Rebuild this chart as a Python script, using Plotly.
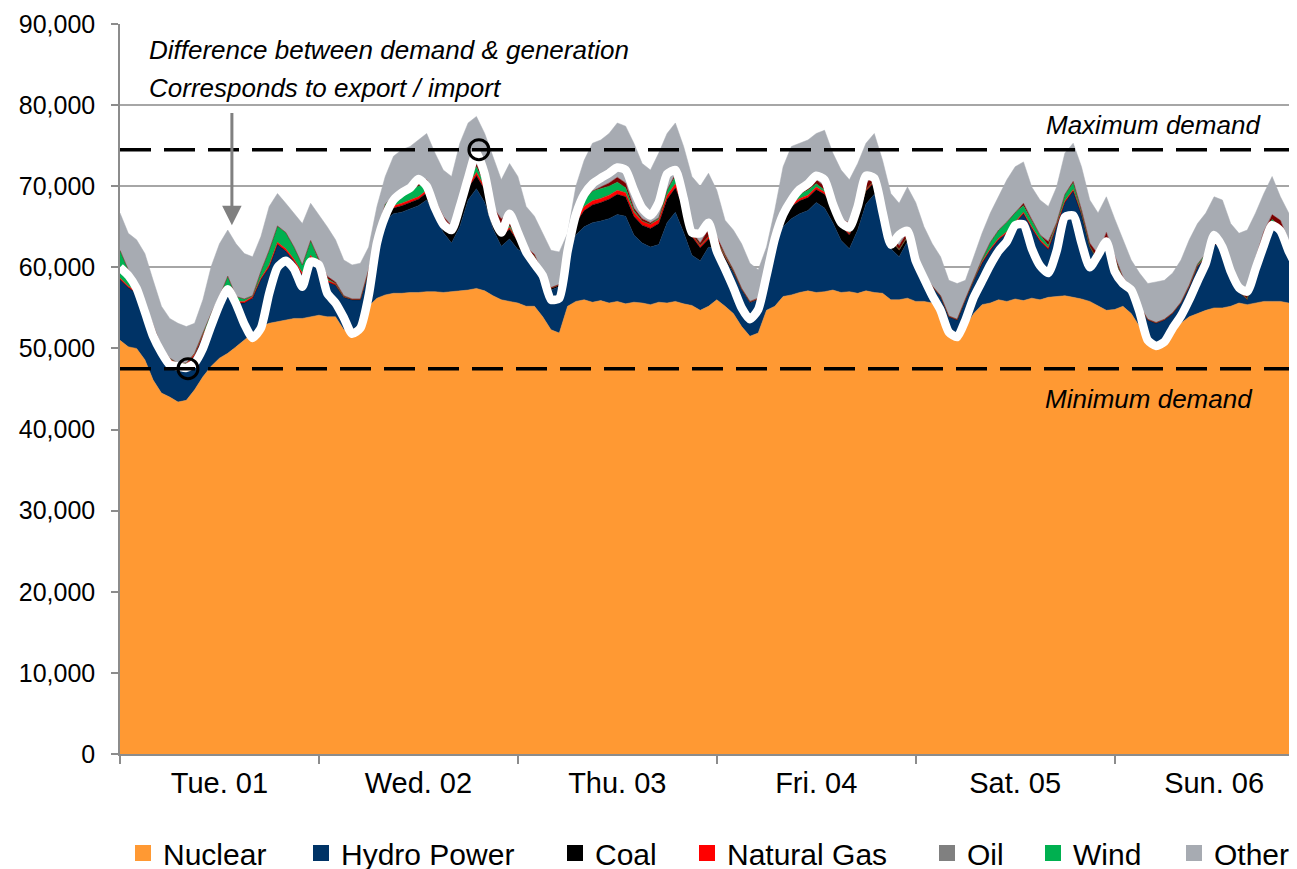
import plotly.graph_objects as go

# ---------------- data (MW, hourly, hour 0 = Tue 00:00) ----------------
hours = list(range(143))

nuclear = [
    51000, 50200, 50000, 48600, 46100, 44500, 44000, 43400, 43600, 44900, 46500, 47800, 48800, 49400, 50200, 51000, 51900, 52700, 53100, 53300, 53500, 53700, 53700, 53900, 54100,
    53900, 53900, 52300, 52300, 52700, 55200, 56200, 56600, 56800, 56800, 56900, 56900, 57000, 57000, 56900, 57000, 57100, 57200, 57400, 57100, 56500, 56000, 55800, 55600,
    55200, 55200, 53900, 52300, 51900, 55200, 55800, 56000, 55700, 55900, 55600, 55800, 55500, 55700, 55600, 55400, 55700, 55600, 55800, 55500, 55300, 54700, 55200, 56000,
    55200, 54300, 52700, 51500, 51900, 54700, 55200, 56400, 56600, 56900, 57100, 56900, 57000, 57200, 56900, 57000, 56800, 57100, 56900, 56800, 56000, 56000, 56200, 55800,
    55800, 55600, 54700, 52300, 51000, 52700, 54300, 55400, 55600, 56000, 55800, 56100, 55900, 56200, 56000, 56300, 56400, 56500, 56300, 56100, 55800, 55200, 54700, 54800,
    55200, 54300, 52700, 50600, 50200, 50800, 52300, 53100, 53900, 54300, 54700, 55000, 55000, 55200, 55600, 55400, 55600, 55800, 55800, 55800, 55600, 55400,
]
hydro = [
    7500, 7300, 6800, 6400, 6200, 5400, 4500, 4500, 4300, 4200, 5000, 5700, 6200, 7800, 5400, 4600, 4300, 5800, 6900, 9500, 8500, 7000, 5300, 7300, 5900,
    4300, 3900, 4000, 3700, 3300, 4100, 6800, 9200, 9800, 10000, 10300, 10700, 11300, 9300, 7400, 6000, 7900, 11100, 12300, 10900, 8200, 6600, 7700, 6600,
    6500, 5700, 4900, 4900, 5700, 5700, 8200, 9000, 9800, 9800, 10400, 10700, 10800, 8300, 7400, 7100, 7100, 9900, 11000, 8800, 6200, 6100, 7300, 6300,
    5700, 5000, 4500, 4100, 4100, 3700, 7300, 8600, 9400, 9700, 9900, 11100, 10300, 8300, 6400, 5300, 7800, 10700, 12100, 9000, 6300, 5300, 7000, 5200,
    3100, 2000, 1700, 1600, 2500, 3300, 4100, 5100, 6500, 7400, 8400, 9300, 10700, 8600, 7200, 5900, 8600, 11500, 13100, 10400, 6700, 5500, 8700, 6200,
    3200, 2900, 2500, 2900, 2900, 2700, 2000, 2500, 3700, 5800, 6600, 7900, 7500, 4300, 1400, 600, 4900, 8000, 9800, 9000, 6900, 5900,
]
coal = [
    0, 0, 0, 0, 0, 0, 0, 0, 0, 0, 0, 0, 0, 0, 0, 0, 0, 0, 0, 0, 0, 0, 0, 0, 0,
    0, 0, 0, 0, 0, 200, 400, 700, 700, 800, 800, 800, 900, 1200, 1300, 1300, 1300, 1500, 1600, 1600, 1500, 1300, 1200, 1000,
    300, 300, 200, 200, 200, 500, 1500, 2000, 2200, 2300, 2400, 2500, 2400, 2300, 2200, 2300, 2600, 2900, 3000, 3000, 2300, 1600, 1000, 800,
    300, 200, 100, 100, 100, 300, 800, 1300, 1500, 1600, 1600, 1600, 1700, 1800, 1800, 1700, 1600, 1600, 1500, 1400, 1000, 800, 500, 300,
    100, 0, 0, 0, 0, 0, 0, 0, 0, 0, 0, 0, 0, 0, 0, 0, 0, 0, 0, 0, 0, 0, 0, 0,
    0, 0, 0, 0, 0, 0, 0, 0, 0, 0, 0, 0, 0, 0, 0, 0, 0, 0, 0, 0, 0, 0,
]
natural_gas = [
    200, 200, 200, 200, 200, 200, 200, 200, 200, 200, 200, 200, 200, 200, 200, 200, 200, 200, 300, 300, 300, 300, 300, 300, 300,
    200, 200, 100, 100, 100, 200, 200, 300, 300, 300, 300, 300, 300, 300, 300, 300, 300, 300, 400, 300, 200, 200, 200, 200,
    200, 200, 100, 100, 100, 200, 400, 500, 500, 500, 500, 500, 500, 500, 500, 500, 500, 500, 500, 400, 300, 300, 300, 200,
    200, 100, 100, 100, 100, 100, 200, 300, 300, 300, 300, 300, 300, 300, 300, 200, 200, 200, 200, 200, 200, 100, 100, 100,
    100, 100, 100, 100, 100, 100, 100, 200, 200, 200, 200, 200, 200, 200, 200, 200, 200, 200, 200, 200, 100, 100, 100, 100,
    100, 100, 100, 100, 100, 100, 100, 100, 100, 100, 100, 100, 100, 100, 100, 100, 100, 100, 100, 100, 100, 100,
]
wind = [
    3400, 2000, 1200, 300, 200, 100, 100, 100, 100, 100, 200, 600, 1200, 1500, 600, 300, 100, 800, 1800, 2000, 2000, 1500, 1000, 1800, 400,
    200, 0, 0, 0, 0, 0, 400, 1000, 1200, 1300, 1200, 1300, 900, 200, 0, 0, 200, 600, 700, 200, 100, 100, 200, 100,
    0, 0, 0, 0, 0, 100, 400, 900, 1200, 1200, 1100, 1000, 600, 200, 0, 0, 200, 600, 900, 100, 0, 0, 0, 0,
    0, 0, 0, 0, 0, 0, 100, 200, 400, 500, 600, 400, 200, 100, 100, 100, 0, 0, 0, 0, 0, 0, 0, 0,
    0, 0, 0, 0, 0, 0, 0, 300, 800, 1000, 1200, 1200, 800, 700, 600, 300, 300, 800, 800, 100, 0, 0, 0, 0,
    100, 0, 0, 0, 0, 0, 0, 0, 100, 200, 300, 300, 200, 100, 0, 0, 100, 200, 200, 100, 0, 0,
]
# dark-red band drawn in the chart (not listed in the legend)
pumped_storage = [
    0, 0, 0, 0, 0, 0, 0, 0, 0, 0, 0, 0, 0, 0, 0, 0, 0, 0, 0, 0, 0, 0, 0, 0, 300,
    300, 200, 100, 0, 0, 0, 0, 0, 0, 0, 200, 400, 400, 300, 400, 500, 200, 200, 300, 500, 900, 1800, 1500, 700,
    300, 200, 100, 0, 0, 0, 0, 0, 0, 200, 400, 600, 600, 300, 300, 200, 0, 0, 300, 300, 300, 300, 900, 500,
    200, 100, 0, 0, 0, 0, 0, 0, 0, 0, 200, 500, 500, 300, 400, 1200, 800, 700, 800, 700, 500, 500, 600, 300,
    0, 0, 0, 0, 0, 0, 0, 0, 0, 0, 0, 0, 300, 200, 0, 500, 0, 0, 200, 300, 400, 800, 800, 300,
    200, 100, 0, 0, 0, 0, 0, 0, 0, 0, 0, 300, 200, 200, 600, 1000, 400, 300, 600, 800, 600, 300,
]
other = [
    4600, 4500, 5200, 6200, 5700, 5000, 4900, 4900, 4500, 3700, 4100, 5800, 6500, 5700, 6500, 5600, 4800, 4300, 5400, 4000, 3600, 4200, 5100, 4600, 5500,
    6100, 5200, 4400, 4200, 4400, 2800, 3500, 3400, 4900, 5300, 5200, 5300, 5700, 5800, 5700, 6100, 8300, 6900, 5900, 5900, 6300, 4800, 6200, 7000,
    5000, 4700, 5000, 4600, 4000, 2500, 3700, 4800, 5900, 5800, 6100, 6700, 7000, 8000, 6800, 6500, 8000, 7000, 6300, 6800, 6800, 7000, 6900, 5700,
    4200, 4900, 5500, 4700, 3500, 3700, 3500, 5600, 6700, 6300, 6000, 5700, 6900, 6100, 6100, 5300, 5600, 5000, 5000, 5100, 5100, 5200, 5500, 6300,
    5900, 5200, 4800, 4400, 4400, 2300, 2800, 3200, 3600, 4100, 5200, 5600, 5100, 4000, 4300, 4300, 4400, 5100, 4700, 5300, 5300, 5100, 4400, 4600,
    4600, 3500, 4000, 4400, 5000, 4800, 4900, 5200, 5600, 5000, 5000, 5100, 5300, 5500, 6500, 7500, 5600, 4700, 4700, 2900, 3500, 3300,
]
demand = [
    60000, 59000, 57400, 54500, 51500, 49500, 48000, 47800, 47600, 48200, 50000, 52800, 55400, 57300, 55500, 53000, 51300, 52500, 56800, 60000, 60800, 59800, 57600, 60700, 60300,
    56800, 55600, 53800, 51800, 52500, 56500, 63000, 66300, 68300, 69200, 69800, 70900, 70000, 67300, 65300, 64600, 67500, 71000, 74200, 71500, 66500, 64300, 66600, 64300,
    61900, 60400, 59000, 56000, 56200, 62000, 66500, 69000, 70300, 71000, 71600, 72300, 72000, 69500, 67300, 66400, 68000, 71500, 72000, 68500, 64300, 64200, 65500, 62000,
    59800, 57500, 55000, 53600, 54800, 59000, 63500, 66500, 68300, 69600, 70300, 71300, 70800, 67800, 65500, 64900, 67500, 71300, 71000, 66800, 62800, 64000, 64500, 60800,
    58600, 56500, 54700, 52000, 51400, 53500, 56300, 58300, 60300, 62000, 63200, 65200, 65300, 62300, 60200, 59300, 62000, 66200, 66400, 63000, 60000, 61500, 63200, 59500,
    58000, 57200, 54500, 51000, 50300, 50800, 52500, 54000, 56000, 58300, 60500, 64000, 62500, 59500, 57500, 57000, 59800, 62700, 65200, 64500, 62000, 60000,
]

day_labels = ["Tue. 01", "Wed. 02", "Thu. 03", "Fri. 04", "Sat. 05", "Sun. 06"]
day_centers = [12, 36, 60, 84, 108, 132]
day_bounds = [0, 24, 48, 72, 96, 120]

max_demand = 74500
min_demand = 47500
max_hour = 43.3
min_hour = 8.2

# ---------------- styling ----------------
FONT = "Liberation Sans, Arial, sans-serif"
W, H = 1297, 869
series = [
    ("Nuclear", nuclear, "#FF9933"),
    ("Hydro Power", hydro, "#003366"),
    ("Coal", coal, "#000000"),
    ("Natural Gas", natural_gas, "#FF0000"),
    ("Wind", wind, "#00B050"),
    ("Pumped Storage", pumped_storage, "#7A0000"),
    ("Other", other, "#A7ABB2"),
]
# legend entries: name, colour, left pixel position of the swatch
legend_items = [("Nuclear", "#FF9933", 135), ("Hydro Power", "#003366", 313),
                ("Coal", "#000000", 567), ("Natural Gas", "#FF0000", 699),
                ("Oil", "#808080", 939), ("Wind", "#00B050", 1045),
                ("Other", "#A7ABB2", 1186)]

fig = go.Figure()
for name, vals, color in series:
    fig.add_trace(go.Scatter(
        x=hours, y=vals, name=name, mode="lines", stackgroup="gen",
        line=dict(width=0.5, color=color), fillcolor=color, showlegend=False,
        hovertemplate=name + ": %{y:,} MW<extra></extra>",
    ))

# demand line
fig.add_trace(go.Scatter(
    x=hours, y=demand, name="Demand", mode="lines",
    line=dict(color="white", width=8.5, shape="spline", smoothing=0.6),
    showlegend=False,
))

# min / max circles
fig.add_trace(go.Scatter(
    x=[min_hour, max_hour], y=[min_demand, max_demand], mode="markers",
    marker=dict(symbol="circle-open", size=20, color="black", line=dict(width=3, color="black")),
    showlegend=False, hoverinfo="skip",
))

# legend entries (square swatches), one positioned legend each
legend_layouts = {}
for i, (name, color, px) in enumerate(legend_items):
    key = "legend" if i == 0 else f"legend{i + 1}"
    fig.add_trace(go.Scatter(
        x=[None], y=[None], mode="markers", name=name, legend=key,
        marker=dict(symbol="square", size=17, color=color),
        showlegend=True,
    ))
    legend_layouts[key] = dict(
        x=(px - 20) / W, xref="container", xanchor="left",
        y=1 - 845 / H, yref="container", yanchor="middle",
        orientation="h", font=dict(family=FONT, size=30, color="black"),
        bgcolor="rgba(0,0,0,0)", itemclick=False, itemdoubleclick=False,
    )

x_end = 142
for yv in (max_demand, min_demand):
    fig.add_shape(type="line", x0=0, x1=x_end, y0=yv, y1=yv, xref="x", yref="y",
                  line=dict(color="black", width=3.5, dash="31px,13px"), layer="above")

ann_font = dict(family=FONT, size=26, color="black")
fig.add_annotation(x=3.3, y=86800, xref="x", yref="y", text="<i>Difference between demand & generation</i>",
                   showarrow=False, xanchor="left", yanchor="middle", font=ann_font)
fig.add_annotation(x=3.3, y=82100, xref="x", yref="y", text="<i>Corresponds to export / import</i>",
                   showarrow=False, xanchor="left", yanchor="middle", font=ann_font)
fig.add_annotation(x=137.9, y=77600, xref="x", yref="y", text="<i>Maximum demand</i>",
                   showarrow=False, xanchor="right", yanchor="middle", font=ann_font)
fig.add_annotation(x=136.9, y=43800, xref="x", yref="y", text="<i>Minimum demand</i>",
                   showarrow=False, xanchor="right", yanchor="middle", font=ann_font)
# arrow
fig.add_annotation(x=13.5, y=65200, ax=13.5, ay=79200, xref="x", yref="y", axref="x", ayref="y",
                   text="", showarrow=True, arrowhead=2, arrowsize=1.3, arrowwidth=3,
                   arrowcolor="#808080")

fig.update_layout(
    width=W, height=H,
    margin=dict(l=112, r=8, t=16, b=123, autoexpand=False),
    paper_bgcolor="white", plot_bgcolor="white",
    font=dict(family=FONT, color="black"),
    showlegend=True,
    hovermode="closest",
    **legend_layouts,
)
fig.update_xaxes(
    range=[0, x_end], tickmode="array", tickvals=day_centers, ticktext=day_labels,
    ticks="outside", ticklen=2, tickcolor="rgba(0,0,0,0)",
    tickfont=dict(family=FONT, size=29, color="black"),
    showgrid=False, zeroline=False, showline=True, linecolor="#8C8C8C", linewidth=1.5,
    minor=dict(tickmode="array", tickvals=day_bounds, ticks="outside", ticklen=8,
               tickcolor="#8C8C8C", tickwidth=1.5, showgrid=False),
    automargin=False,
)
fig.update_yaxes(
    range=[0, 90000], tickmode="array", tickvals=list(range(0, 90001, 10000)),
    tickformat=",d", ticks="outside", ticklen=7, tickcolor="#8C8C8C", tickwidth=1.5,
    tickfont=dict(family=FONT, size=25, color="black"), ticklabelstandoff=11,
    showgrid=True, gridcolor="#A6A6A6", gridwidth=1.5, zeroline=False,
    showline=True, linecolor="#8C8C8C", linewidth=1.5,
    automargin=False,
)

fig.write_html("out.html")
